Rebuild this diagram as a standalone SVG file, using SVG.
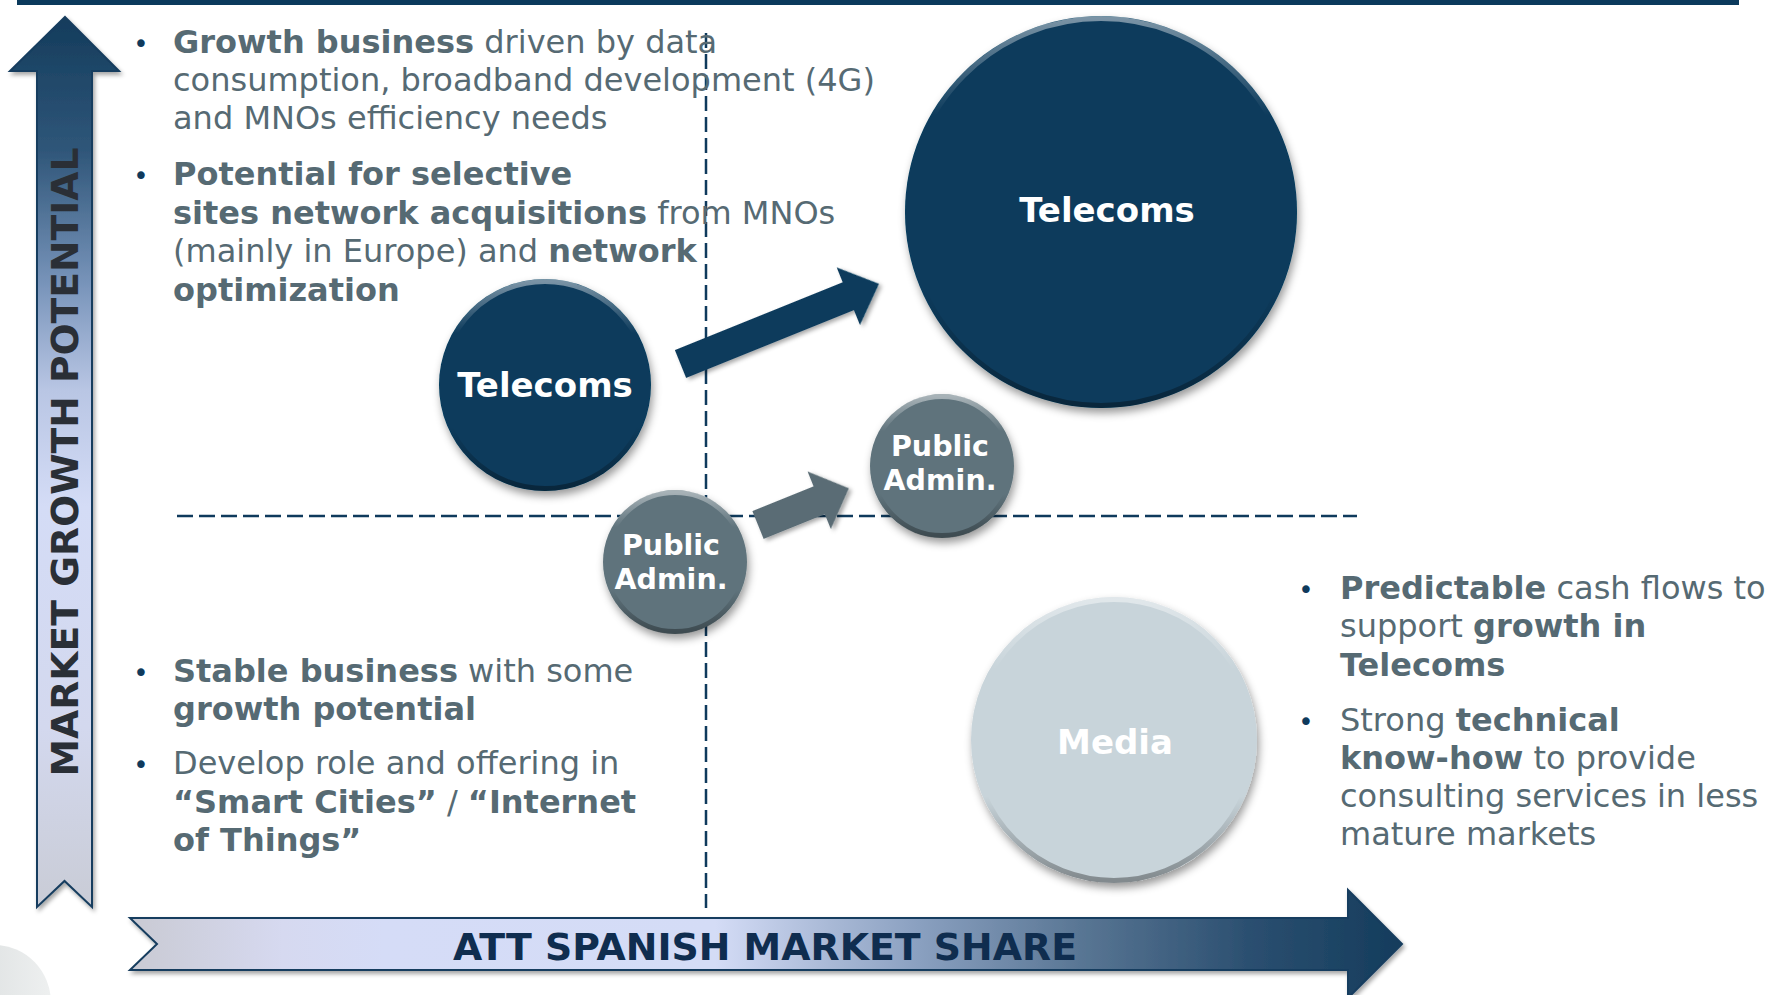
<svg xmlns="http://www.w3.org/2000/svg" width="1777" height="995" viewBox="0 0 1777 995">
  <defs>
    <style>
      .body { font-family: Verdana, "DejaVu Sans", sans-serif; font-size: 32px; fill: #566a73; }
      .b { font-weight: bold; }
      .bullet { font-family: Verdana, "DejaVu Sans", sans-serif; font-size: 26px; fill: #0f3a5c; text-anchor: middle; }
      .label { font-family: Verdana, "DejaVu Sans", sans-serif; font-weight: bold; fill: #ffffff; text-anchor: middle; }
      .axis-label { font-family: Verdana, "DejaVu Sans", sans-serif; font-weight: bold; font-size: 37px; text-anchor: middle; }
      .quad { stroke: #0f3a5c; stroke-width: 2.5; fill: none; }
      .rim { fill: none; stroke: url(#rim); stroke-width: 5; }
    </style>

    <!-- vertical axis fill: navy at the tip fading to pale lavender -->
    <linearGradient id="gradUp" gradientUnits="userSpaceOnUse" x1="0" y1="17" x2="0" y2="907">
      <stop offset="0" stop-color="#143c5c"/>
      <stop offset="0.15" stop-color="#2f5679"/>
      <stop offset="0.3" stop-color="#7894ba"/>
      <stop offset="0.42" stop-color="#b9c6e4"/>
      <stop offset="0.55" stop-color="#d4dcf6"/>
      <stop offset="0.8" stop-color="#d3d8ee"/>
      <stop offset="1" stop-color="#c9ccd6"/>
    </linearGradient>

    <!-- horizontal axis fill: pale on the left, navy at the head -->
    <linearGradient id="gradRight" gradientUnits="userSpaceOnUse" x1="130" y1="0" x2="1402" y2="0">
      <stop offset="0" stop-color="#c9cad3"/>
      <stop offset="0.12" stop-color="#d6d9f0"/>
      <stop offset="0.2" stop-color="#d5dcf7"/>
      <stop offset="0.46" stop-color="#d4dcf6"/>
      <stop offset="0.55" stop-color="#a9b9d6"/>
      <stop offset="0.62" stop-color="#8aa0c0"/>
      <stop offset="0.75" stop-color="#587593"/>
      <stop offset="0.88" stop-color="#2b4f70"/>
      <stop offset="1" stop-color="#143c5c"/>
    </linearGradient>

    <!-- bevel rim for the bubbles -->
    <linearGradient id="rim" x1="0" y1="0" x2="0" y2="1">
      <stop offset="0" stop-color="#ffffff" stop-opacity="0.45"/>
      <stop offset="0.25" stop-color="#ffffff" stop-opacity="0"/>
      <stop offset="0.7" stop-color="#000000" stop-opacity="0"/>
      <stop offset="1" stop-color="#000000" stop-opacity="0.35"/>
    </linearGradient>

    <linearGradient id="blob" x1="0" y1="0" x2="1" y2="0">
      <stop offset="0" stop-color="#d6dadb"/>
      <stop offset="1" stop-color="#eef0f0"/>
    </linearGradient>

    <filter id="shadow" x="-20%" y="-20%" width="140%" height="140%">
      <feDropShadow dx="2" dy="5" stdDeviation="4" flood-color="#000000" flood-opacity="0.4"/>
    </filter>
    <filter id="shadowSoft" x="-10%" y="-10%" width="120%" height="120%">
      <feDropShadow dx="2" dy="3" stdDeviation="2" flood-color="#000000" flood-opacity="0.35"/>
    </filter>
  </defs>

  <rect width="1777" height="995" fill="#ffffff"/>

  <!-- header rule -->
  <rect x="17" y="0" width="1722" height="5" fill="#0b3a5c"/>

  <!-- corner decoration -->
  <ellipse cx="-5" cy="1003" rx="56" ry="58" fill="url(#blob)"/>

  <!-- quadrant dividers -->
  <g id="quadrants">
    <line class="quad" x1="706" y1="33" x2="706" y2="908" stroke-dasharray="15 6"/>
    <line class="quad" x1="177" y1="516" x2="1357" y2="516" stroke-dasharray="16 6"/>
  </g>

  <!-- axes -->
  <g id="axis-y">
    <path d="M65,17 L119,71 L92,71 L92,907 L64.5,881 L37,907 L37,71 L10,71 Z" fill="url(#gradUp)" stroke="#163d5e" stroke-width="2" filter="url(#shadowSoft)"/>
    <text class="axis-label" fill="#2a2f36" transform="translate(78,462) rotate(-90)" textLength="629" lengthAdjust="spacingAndGlyphs">MARKET GROWTH POTENTIAL</text>
  </g>
  <g id="axis-x">
    <path d="M130,918 L1348,918 L1348,890 L1402,944 L1348,998 L1348,970 L130,970 L157,944 Z" fill="url(#gradRight)" stroke="#163d5e" stroke-width="2" filter="url(#shadowSoft)"/>
    <text class="axis-label" fill="#0f2d4f" x="765" y="960" textLength="624" lengthAdjust="spacingAndGlyphs">ATT SPANISH MARKET SHARE</text>
  </g>

  <!-- quadrant notes -->
  <g id="notes-top-left">
    <text class="bullet" x="141" y="53">•</text>
    <text class="body" x="173" y="53"><tspan class="b">Growth business</tspan> driven by data</text>
    <text class="body" x="173" y="91">consumption, broadband development (4G)</text>
    <text class="body" x="173" y="129">and MNOs efficiency needs</text>
    <text class="bullet" x="141" y="185">•</text>
    <text class="body" x="173" y="185"><tspan class="b">Potential for selective</tspan></text>
    <text class="body" x="173" y="224"><tspan class="b">sites network acquisitions</tspan> from MNOs</text>
    <text class="body" x="173" y="262">(mainly in Europe) and <tspan class="b">network</tspan></text>
    <text class="body" x="173" y="301"><tspan class="b">optimization</tspan></text>
  </g>

  <g id="notes-bottom-left">
    <text class="bullet" x="141" y="682">•</text>
    <text class="body" x="173" y="682"><tspan class="b">Stable business</tspan> with some</text>
    <text class="body" x="173" y="720"><tspan class="b">growth potential</tspan></text>
    <text class="bullet" x="141" y="774">•</text>
    <text class="body" x="173" y="774">Develop role and offering in</text>
    <text class="body" x="173" y="813"><tspan class="b">“Smart Cities”</tspan> / <tspan class="b">“Internet</tspan></text>
    <text class="body" x="173" y="851"><tspan class="b">of Things”</tspan></text>
  </g>

  <g id="notes-right">
    <text class="bullet" x="1306" y="599">•</text>
    <text class="body" x="1340" y="599"><tspan class="b">Predictable</tspan> cash flows to</text>
    <text class="body" x="1340" y="637">support <tspan class="b">growth in</tspan></text>
    <text class="body" x="1340" y="676"><tspan class="b">Telecoms</tspan></text>
    <text class="bullet" x="1306" y="731">•</text>
    <text class="body" x="1340" y="731">Strong <tspan class="b">technical</tspan></text>
    <text class="body" x="1340" y="769"><tspan class="b">know-how</tspan> to provide</text>
    <text class="body" x="1340" y="807">consulting services in less</text>
    <text class="body" x="1340" y="845">mature markets</text>
  </g>

  <!-- movement arrows between positions -->
  <g id="connectors">
    <polygon points="0,-15 181,-15 181,-31 214,0 181,31 181,15 0,15" fill="#073b5c" filter="url(#shadowSoft)" transform="translate(680.5,364) rotate(-22)"/>
    <polygon points="0,-15 66,-15 66,-31 98,0 66,31 66,15 0,15" fill="#5a6c74" filter="url(#shadowSoft)" transform="translate(758,525) rotate(-22)"/>
  </g>

  <!-- bubbles -->
  <g id="telecoms-now">
    <circle cx="545" cy="385" r="106" fill="#073b5c" filter="url(#shadow)"/>
    <circle class="rim" cx="545" cy="385" r="103.5"/>
    <text class="label" x="545" y="397" font-size="34">Telecoms</text>
  </g>

  <g id="telecoms-target">
    <circle cx="1101" cy="212" r="196" fill="#073b5c" filter="url(#shadow)"/>
    <circle class="rim" cx="1101" cy="212" r="193.5"/>
    <text class="label" x="1107" y="222" font-size="34">Telecoms</text>
  </g>

  <g id="public-admin-now">
    <circle cx="675" cy="562" r="72" fill="#5f737b" filter="url(#shadow)"/>
    <circle class="rim" cx="675" cy="562" r="69.5"/>
    <text class="label" x="671" y="555" font-size="28.5">Public</text>
    <text class="label" x="671" y="589" font-size="28.5">Admin.</text>
  </g>

  <g id="public-admin-target">
    <circle cx="942" cy="466" r="72" fill="#5f737b" filter="url(#shadow)"/>
    <circle class="rim" cx="942" cy="466" r="69.5"/>
    <text class="label" x="940" y="456" font-size="28.5">Public</text>
    <text class="label" x="940" y="490" font-size="28.5">Admin.</text>
  </g>

  <g id="media">
    <circle cx="1114" cy="740" r="143" fill="#c8d4da" filter="url(#shadow)"/>
    <circle class="rim" cx="1114" cy="740" r="140.5"/>
    <text class="label" x="1115" y="754" font-size="34" fill="#f6f9fa">Media</text>
  </g>
</svg>
